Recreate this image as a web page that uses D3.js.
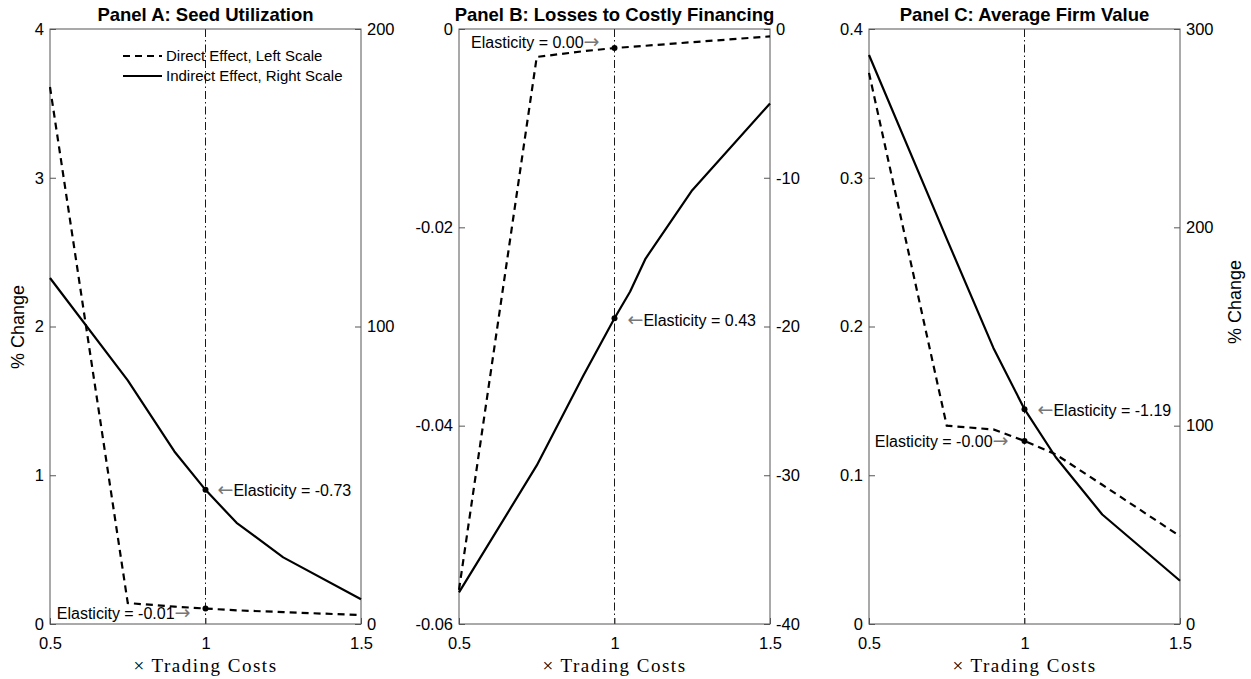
<!DOCTYPE html>
<html>
<head>
<meta charset="utf-8">
<script src="https://cdn.jsdelivr.net/npm/d3@7"></script>
<style>
  html, body { margin: 0; padding: 0; background: #fff; }
  svg { display: block; }
  .tick text { font-family: "Liberation Sans", Arial, sans-serif; font-size: 16.5px; fill: #000; }
  .tick line { stroke: #555; }
  .domain { stroke: none; }
</style>
</head>
<body>
<svg id="chart" width="1251" height="679"></svg>
<script>
// Trading-cost multipliers on the horizontal axis
const tradingCost = [0.5, 0.75, 0.9, 1, 1.1, 1.25, 1.5];
const tradingCostFine = [0.5, 0.75, 0.9, 1, 1.05, 1.1, 1.25, 1.5];
const xTicks = [0.5, 1, 1.5];

// Panel A: seed utilization (% change)
const seedDirect = [3.61, 0.141, 0.117, 0.104, 0.092, 0.080, 0.060];
const seedIndirect = [116.3, 81.9, 58.0, 45.1, 34.0, 22.4, 8.3];
const seedLeftTicks = [0, 1, 2, 3, 4];
const seedRightTicks = [0, 100, 200];

// Panel B: losses to costly financing (% change)
const lossDirect = [-0.05655, -0.00282, -0.00224, -0.00192, -0.00169, -0.00133, -0.000745];
const lossIndirect = [-37.87, -29.34, -23.3, -19.45, -17.66, -15.43, -10.84, -5.01];
const lossLeftTicks = [0, -0.02, -0.04, -0.06];
const lossRightTicks = [0, -10, -20, -30, -40];

// Panel C: average firm value (% change)
const valueDirect = [0.3705, 0.1333, 0.1308, 0.1231, 0.1141, 0.0936, 0.059];
const valueIndirect = [286.9, 194.2, 139.2, 108.3, 84.2, 55.2, 21.8];
const valueLeftTicks = [0, 0.1, 0.2, 0.3, 0.4];
const valueRightTicks = [0, 100, 200, 300];

// plain hyphen for negative numbers
const locale = d3.formatLocale({ decimal: ".", thousands: ",", grouping: [3], currency: ["", ""], minus: "-" });
const fmtG = locale.format("~g");
const fmt2 = locale.format(".2f");

const panels = [
  {
    title: "Panel A: Seed Utilization",
    left: 50, right: 361,
    leftDomain: [0, 4], rightDomain: [0, 200],
    leftTicks: seedLeftTicks, rightTicks: seedRightTicks,
    directX: tradingCost, direct: seedDirect,
    indirectX: tradingCost, indirect: seedIndirect,
    directLabel: "Elasticity = -0.01", directDx: -15, directDy: 5,
    indirectLabel: "Elasticity = -0.73", indirectDx: 12, indirectDy: 1,
    legend: true
  },
  {
    title: "Panel B: Losses to Costly Financing",
    left: 459, right: 770,
    leftDomain: [-0.06, 0], rightDomain: [-40, 0],
    leftTicks: lossLeftTicks, rightTicks: lossRightTicks,
    directX: tradingCost, direct: lossDirect,
    indirectX: tradingCostFine, indirect: lossIndirect,
    directLabel: "Elasticity = 0.00", directDx: -15, directDy: -6,
    indirectLabel: "Elasticity = 0.43", indirectDx: 13, indirectDy: 2,
    leftFormat: d => d === 0 ? "0" : fmt2(d)
  },
  {
    title: "Panel C: Average Firm Value",
    left: 869, right: 1180,
    leftDomain: [0, 0.4], rightDomain: [0, 300],
    leftTicks: valueLeftTicks, rightTicks: valueRightTicks,
    directX: tradingCost, direct: valueDirect,
    indirectX: tradingCost, indirect: valueIndirect,
    directLabel: "Elasticity = -0.00", directDx: -16, directDy: 1,
    indirectLabel: "Elasticity = -1.19", indirectDx: 13, indirectDy: 1
  }
];

const plotTop = 29, plotBottom = 624;
const svg = d3.select("#chart");
const sans = '"Liberation Sans", Arial, sans-serif';
const serif = '"Liberation Serif", "Times New Roman", serif';
const arrowFont = '"DejaVu Sans", sans-serif';

panels.forEach(p => {
  const x = d3.scaleLinear().domain([0.5, 1.5]).range([p.left, p.right]);
  const yL = d3.scaleLinear().domain(p.leftDomain).range([plotBottom, plotTop]);
  const yR = d3.scaleLinear().domain(p.rightDomain).range([plotBottom, plotTop]);
  const g = svg.append("g");

  // title
  g.append("text")
    .attr("x", (p.left + p.right) / 2).attr("y", 21)
    .attr("text-anchor", "middle")
    .style("font-family", sans).style("font-size", "18.5px").style("font-weight", "bold")
    .text(p.title);

  // reference line at the baseline cost
  g.append("line")
    .attr("x1", x(1)).attr("x2", x(1)).attr("y1", plotTop).attr("y2", plotBottom)
    .attr("stroke", "#000").attr("stroke-width", 0.9)
    .attr("stroke-dasharray", "8,3,1.5,3");

  // axes with inward ticks
  const leftAxis = d3.axisLeft(yL).tickValues(p.leftTicks).tickSizeInner(-6).tickSizeOuter(0).tickPadding(6)
    .tickFormat(p.leftFormat || fmtG);
  g.append("g").attr("transform", `translate(${p.left},0)`).call(leftAxis);

  const rightAxis = d3.axisRight(yR).tickValues(p.rightTicks).tickSizeInner(-6).tickSizeOuter(0).tickPadding(6)
    .tickFormat(fmtG);
  g.append("g").attr("transform", `translate(${p.right},0)`).call(rightAxis);

  const bottomAxis = d3.axisBottom(x).tickValues(xTicks).tickSizeInner(-6).tickSizeOuter(0).tickPadding(13)
    .tickFormat(fmtG);
  g.append("g").attr("transform", `translate(0,${plotBottom})`).call(bottomAxis);

  // frame
  g.append("rect")
    .attr("x", p.left).attr("y", plotTop)
    .attr("width", p.right - p.left).attr("height", plotBottom - plotTop)
    .attr("fill", "none").attr("stroke", "#555").attr("stroke-width", 1);

  // x label
  g.append("text")
    .attr("x", (p.left + p.right) / 2).attr("y", 672)
    .attr("text-anchor", "middle")
    .style("font-family", serif).style("font-size", "19px").style("letter-spacing", "1.5px")
    .text("\u00d7 Trading Costs");

  const directPts = p.directX.map((v, i) => [v, p.direct[i]]);
  const indirectPts = p.indirectX.map((v, i) => [v, p.indirect[i]]);

  g.append("path")
    .datum(indirectPts)
    .attr("fill", "none").attr("stroke", "#000").attr("stroke-width", 2.2)
    .attr("stroke-linejoin", "round")
    .attr("d", d3.line().x(d => x(d[0])).y(d => yR(d[1])));

  g.append("path")
    .datum(directPts)
    .attr("fill", "none").attr("stroke", "#000").attr("stroke-width", 2.2)
    .attr("stroke-dasharray", "7,5")
    .attr("d", d3.line().x(d => x(d[0])).y(d => yL(d[1])));

  // marked points at cost multiplier 1
  const iDir = p.directX.indexOf(1);
  const iInd = p.indirectX.indexOf(1);
  const dDot = [x(1), yL(p.direct[iDir])];
  const iDot = [x(1), yR(p.indirect[iInd])];
  [dDot, iDot].forEach(c => {
    g.append("circle").attr("cx", c[0]).attr("cy", c[1]).attr("r", 3).attr("fill", "#000");
  });

  // elasticity annotations
  const tl = g.append("text")
    .attr("x", dDot[0] + p.directDx).attr("y", dDot[1] + p.directDy)
    .attr("dy", "0.35em").attr("text-anchor", "end")
    .style("font-family", sans).style("font-size", "16px");
  tl.append("tspan").text(p.directLabel);
  tl.append("tspan").attr("fill", "#777").style("font-family", arrowFont).style("font-size", "19px").text("\u2192");

  const tr = g.append("text")
    .attr("x", iDot[0] + p.indirectDx).attr("y", iDot[1] + p.indirectDy)
    .attr("dy", "0.35em").attr("text-anchor", "start")
    .style("font-family", sans).style("font-size", "16px");
  tr.append("tspan").attr("fill", "#777").style("font-family", arrowFont).style("font-size", "19px").text("\u2190");
  tr.append("tspan").text(p.indirectLabel);

  if (p.legend) {
    const lg = g.append("g");
    const items = [
      { label: "Direct Effect, Left Scale", dash: "7,5", y: 56 },
      { label: "Indirect Effect, Right Scale", dash: null, y: 76 }
    ];
    items.forEach(it => {
      lg.append("line")
        .attr("x1", 123).attr("x2", 162).attr("y1", it.y).attr("y2", it.y)
        .attr("stroke", "#000").attr("stroke-width", 2.2)
        .attr("stroke-dasharray", it.dash);
      lg.append("text")
        .attr("x", 166).attr("y", it.y).attr("dy", "0.35em")
        .style("font-family", sans).style("font-size", "15px")
        .text(it.label);
    });
  }
});

// shared axis titles
svg.append("text")
  .attr("transform", "translate(24,327) rotate(-90)")
  .attr("text-anchor", "middle")
  .style("font-family", sans).style("font-size", "18px")
  .text("% Change");
svg.append("text")
  .attr("transform", "translate(1241,302) rotate(-90)")
  .attr("text-anchor", "middle")
  .style("font-family", sans).style("font-size", "18px")
  .text("% Change");
</script>
</body>
</html>
